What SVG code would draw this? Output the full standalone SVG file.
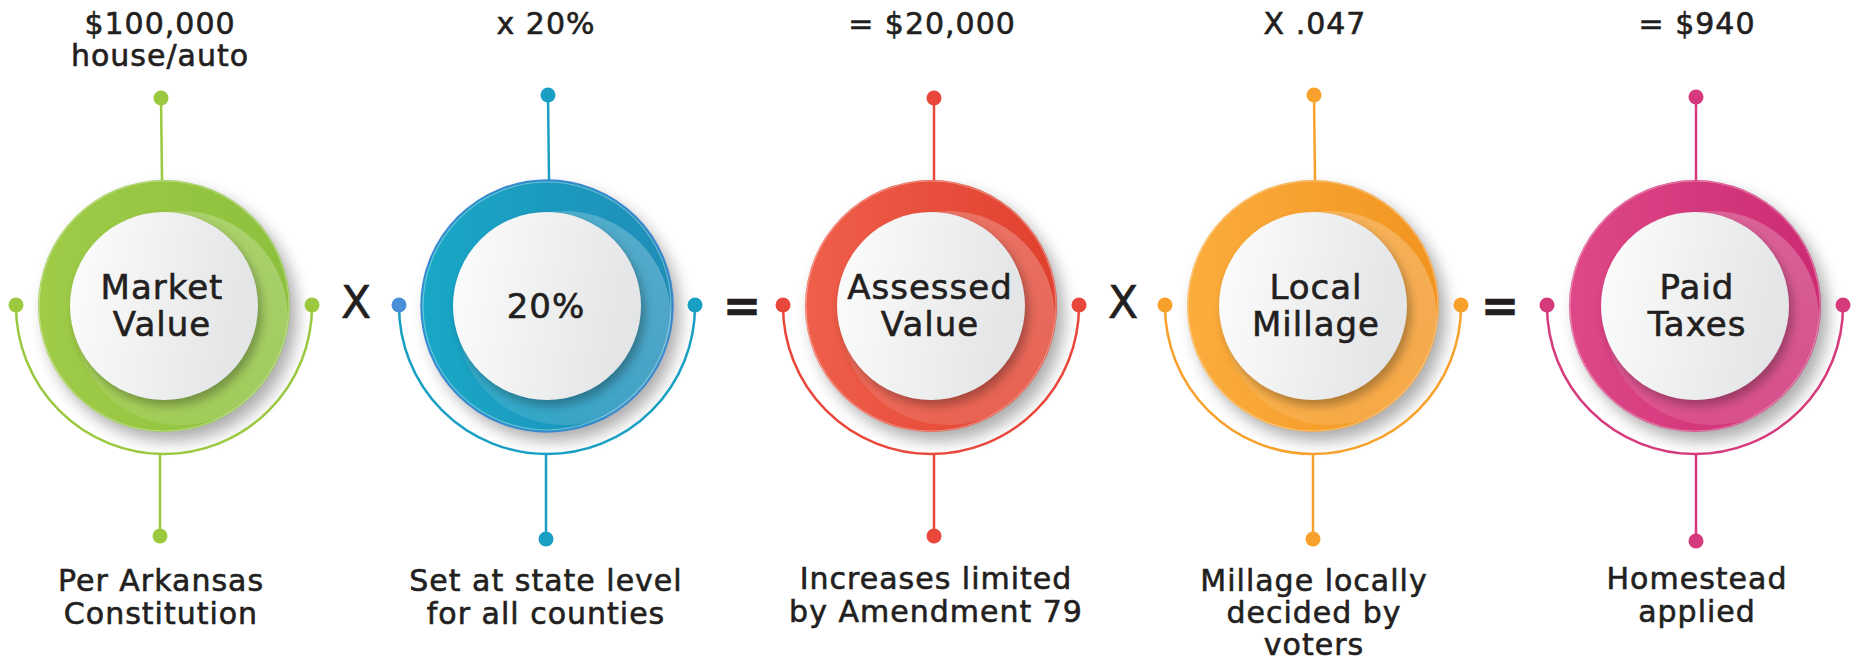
<svg xmlns="http://www.w3.org/2000/svg" width="1858" height="659" viewBox="0 0 1858 659">
<style>
.t{font-family:"DejaVu Sans","Liberation Sans",sans-serif;fill:#231f20;stroke:#231f20;stroke-width:.6px;text-anchor:middle;letter-spacing:1px}
.cap{font-size:30px}
.lab{font-size:34px}
.op{font-size:44px;letter-spacing:0}
.eq{font-size:46px;font-weight:bold;letter-spacing:0}
.ln{fill:none;stroke-width:2.5}
.disc{fill:url(#gDisc)}
.dsh{fill:#000;opacity:.28;filter:url(#blur5)}
.rsh{fill:#000;opacity:.32;filter:url(#blur8)}
.fold{fill:url(#gFold)}
.rim{fill:none;stroke:#fff;stroke-opacity:.35;stroke-width:1.2}
</style>
<defs>
<linearGradient id="gGreen" x1="0" y1="0" x2="1" y2="0"><stop offset="0" stop-color="#a0cc48"/><stop offset="1" stop-color="#8cc03c"/></linearGradient>
<linearGradient id="gBlue" x1="0" y1="0" x2="1" y2="0"><stop offset="0" stop-color="#18a7c7"/><stop offset="1" stop-color="#1f8db8"/></linearGradient>
<linearGradient id="gRed" x1="0" y1="0" x2="1" y2="0"><stop offset="0" stop-color="#ef5f4b"/><stop offset="1" stop-color="#e0402e"/></linearGradient>
<linearGradient id="gOrange" x1="0" y1="0" x2="1" y2="0"><stop offset="0" stop-color="#fbad3d"/><stop offset="1" stop-color="#f2941f"/></linearGradient>
<linearGradient id="gPink" x1="0" y1="0" x2="1" y2="0"><stop offset="0" stop-color="#de4888"/><stop offset="1" stop-color="#cc2a72"/></linearGradient>
<linearGradient id="gDisc" x1="0" y1="0" x2="1" y2="0.2"><stop offset="0" stop-color="#fdfdfd"/><stop offset="1" stop-color="#e4e5e6"/></linearGradient>
<linearGradient id="gFold" x1="1" y1="0" x2="0" y2="1"><stop offset="0" stop-color="#fff" stop-opacity=".26"/><stop offset="1" stop-color="#fff" stop-opacity=".08"/></linearGradient>
<filter id="blur8" x="-30%" y="-30%" width="160%" height="160%"><feGaussianBlur stdDeviation="8"/></filter>
<filter id="blur5" x="-30%" y="-30%" width="160%" height="160%"><feGaussianBlur stdDeviation="5"/></filter>
<clipPath id="ringClip"><circle r="125"/></clipPath>
</defs>
<rect width="1858" height="659" fill="#fff"/>

<g id="node-market">
<g transform="translate(164,306)">
<circle class="rsh" cx="7" cy="9" r="126"/>
<circle r="126" fill="url(#gGreen)"/>
<circle class="rim" r="125"/>
<circle class="fold" cx="17" cy="12" r="107" clip-path="url(#ringClip)"/>
<circle class="dsh" cx="4" cy="6" r="94"/>
<circle class="disc" r="94"/>
</g>
<text class="t lab" x="162" y="299">Market</text>
<text class="t lab" x="162" y="336">Value</text>
<text class="t cap" x="160" y="34">$100,000</text>
<text class="t cap" x="160" y="66">house/auto</text>
<text class="t cap" x="161" y="591">Per Arkansas</text>
<text class="t cap" x="161" y="624">Constitution</text>
</g>

<text id="op1" class="t op" x="356" y="318">X</text>

<g id="node-rate">
<g transform="translate(547,306)">
<circle class="rsh" cx="7" cy="9" r="126"/>
<circle r="126" fill="url(#gBlue)" stroke="#3d86d4" stroke-width="1.5"/>
<circle class="rim" r="124"/>
<circle class="fold" cx="17" cy="12" r="107" clip-path="url(#ringClip)"/>
<circle class="dsh" cx="4" cy="6" r="94"/>
<circle class="disc" r="94"/>
</g>
<text class="t lab" x="546" y="318">20%</text>
<text class="t cap" x="546" y="34">x 20%</text>
<text class="t cap" x="546" y="591">Set at state level</text>
<text class="t cap" x="546" y="624">for all counties</text>
</g>

<text id="op2" class="t eq" x="742" y="322">=</text>

<g id="node-assessed">
<g transform="translate(931,306)">
<circle class="rsh" cx="7" cy="9" r="126"/>
<circle r="126" fill="url(#gRed)"/>
<circle class="rim" r="125"/>
<circle class="fold" cx="17" cy="12" r="107" clip-path="url(#ringClip)"/>
<circle class="dsh" cx="4" cy="6" r="94"/>
<circle class="disc" r="94"/>
</g>
<text class="t lab" x="930" y="299">Assessed</text>
<text class="t lab" x="930" y="336">Value</text>
<text class="t cap" x="932" y="34">= $20,000</text>
<text class="t cap" x="936" y="589">Increases limited</text>
<text class="t cap" x="936" y="622">by Amendment 79</text>
</g>

<text id="op3" class="t op" x="1123" y="318">X</text>

<g id="node-millage">
<g transform="translate(1313,306)">
<circle class="rsh" cx="7" cy="9" r="126"/>
<circle r="126" fill="url(#gOrange)"/>
<circle class="rim" r="125"/>
<circle class="fold" cx="17" cy="12" r="107" clip-path="url(#ringClip)"/>
<circle class="dsh" cx="4" cy="6" r="94"/>
<circle class="disc" r="94"/>
</g>
<text class="t lab" x="1316" y="299">Local</text>
<text class="t lab" x="1316" y="336">Millage</text>
<text class="t cap" x="1315" y="34">X .047</text>
<text class="t cap" x="1314" y="591">Millage locally</text>
<text class="t cap" x="1314" y="623">decided by</text>
<text class="t cap" x="1314" y="655">voters</text>
</g>

<text id="op4" class="t eq" x="1500" y="322">=</text>

<g id="node-taxes">
<g transform="translate(1695,306)">
<circle class="rsh" cx="7" cy="9" r="126"/>
<circle r="126" fill="url(#gPink)"/>
<circle class="rim" r="125"/>
<circle class="fold" cx="17" cy="12" r="107" clip-path="url(#ringClip)"/>
<circle class="dsh" cx="4" cy="6" r="94"/>
<circle class="disc" r="94"/>
</g>
<text class="t lab" x="1697" y="299">Paid</text>
<text class="t lab" x="1697" y="336">Taxes</text>
<text class="t cap" x="1697" y="34">= $940</text>
<text class="t cap" x="1697" y="589">Homestead</text>
<text class="t cap" x="1697" y="622">applied</text>
</g>

<g id="connectors">
<g stroke="#9ac93f" fill="#9ac93f">
<line class="ln" x1="161" y1="98" x2="162" y2="180"/>
<path class="ln" d="M16 306 A148 148 0 0 0 312 306"/>
<line class="ln" x1="160" y1="454" x2="160" y2="536"/>
<circle cx="161" cy="98" r="7.5" stroke="none"/>
<circle cx="160" cy="536" r="7.5" stroke="none"/>
<circle cx="16" cy="305" r="7.5" stroke="none"/>
<circle cx="312" cy="305" r="7.5" stroke="none"/>
</g>
<g stroke="#1a9fc4" fill="#1a9fc4">
<line class="ln" x1="548" y1="95" x2="549" y2="180"/>
<path class="ln" d="M399 306 A148 148 0 0 0 695 306"/>
<line class="ln" x1="546" y1="454" x2="546" y2="539"/>
<circle cx="548" cy="95" r="7.5" stroke="none"/>
<circle cx="546" cy="539" r="7.5" stroke="none"/>
<circle cx="399" cy="305" r="7.5" stroke="none" fill="#4a90d9"/>
<circle cx="695" cy="305" r="7.5" stroke="none"/>
</g>
<g stroke="#e9473a" fill="#e9473a">
<line class="ln" x1="934" y1="98" x2="934" y2="180"/>
<path class="ln" d="M783 306 A148 148 0 0 0 1079 306"/>
<line class="ln" x1="934" y1="454" x2="934" y2="536"/>
<circle cx="934" cy="98" r="7.5" stroke="none"/>
<circle cx="934" cy="536" r="7.5" stroke="none"/>
<circle cx="783" cy="305" r="7.5" stroke="none"/>
<circle cx="1079" cy="305" r="7.5" stroke="none"/>
</g>
<g stroke="#f7a12c" fill="#f7a12c">
<line class="ln" x1="1314" y1="95" x2="1315" y2="180"/>
<path class="ln" d="M1165 306 A148 148 0 0 0 1461 306"/>
<line class="ln" x1="1313" y1="454" x2="1313" y2="539"/>
<circle cx="1314" cy="95" r="7.5" stroke="none"/>
<circle cx="1313" cy="539" r="7.5" stroke="none"/>
<circle cx="1165" cy="305" r="7.5" stroke="none"/>
<circle cx="1461" cy="305" r="7.5" stroke="none"/>
</g>
<g stroke="#d53a7d" fill="#d53a7d">
<line class="ln" x1="1696" y1="97" x2="1696" y2="180"/>
<path class="ln" d="M1547 306 A148 148 0 0 0 1843 306"/>
<line class="ln" x1="1696" y1="454" x2="1696" y2="541"/>
<circle cx="1696" cy="97" r="7.5" stroke="none"/>
<circle cx="1696" cy="541" r="7.5" stroke="none"/>
<circle cx="1547" cy="305" r="7.5" stroke="none"/>
<circle cx="1843" cy="305" r="7.5" stroke="none"/>
</g>
</g>
</svg>
